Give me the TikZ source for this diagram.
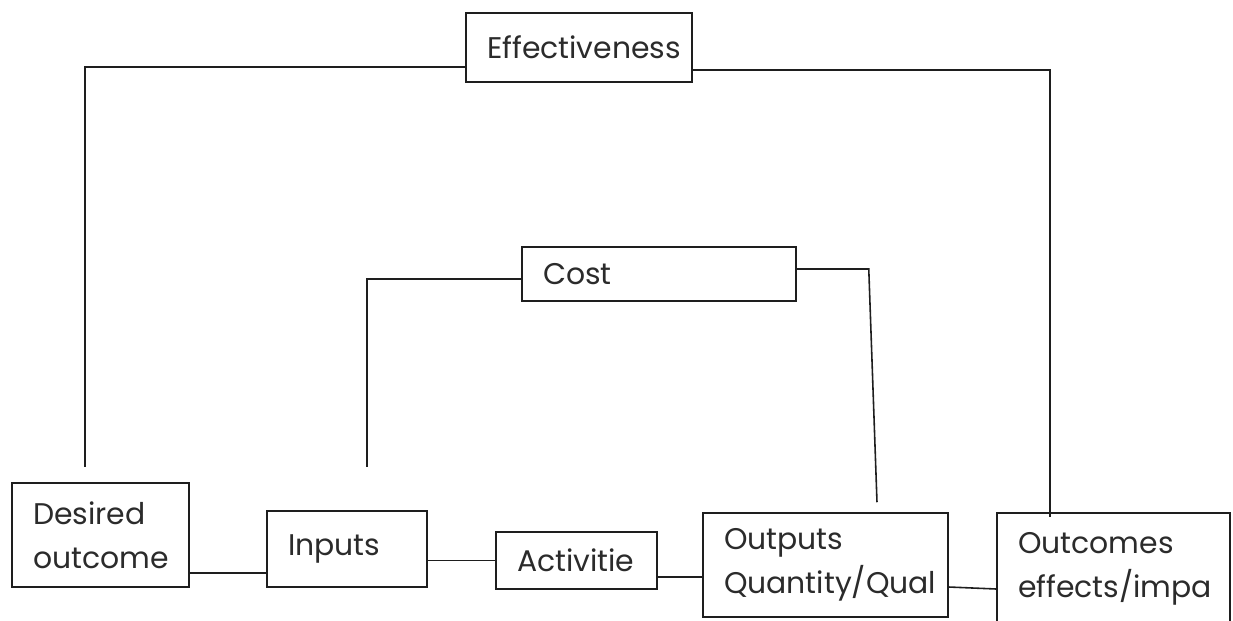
\documentclass[tikz,border=0pt]{standalone}
\usepackage{fontspec}
\setmainfont{Poppins}
\usetikzlibrary{positioning}
\definecolor{inkline}{HTML}{1E1E1E}
\definecolor{inktext}{HTML}{2B2B2B}
\tikzset{
  stagebox/.style={draw=inkline, line width=0.9pt, align=left, inner xsep=0.42cm, inner ysep=0pt, text=inktext, font=\fontsize{17}{25}\selectfont},
  linkline/.style={draw=inkline, line width=0.9pt}
}

\begin{document}
\begin{tikzpicture}[x=0.02cm, y=-0.02cm]
  \clip (0,0) rectangle (1233,620);
  \fill[white] (0,0) rectangle (1233,620);
  % upper boxes
  \node[stagebox, text width=3.68cm, minimum height=1.38cm] (eff) at (579,47.5) {Effectiveness};
  \node[stagebox, text width=4.64cm, minimum height=1.08cm] (cost) at (659,274) {Cost};
  % chain along the bottom
  \node[stagebox, text width=2.70cm, minimum height=2.08cm] (desired) at (100.5,535) {Desired\\outcome};
  \node[stagebox, text width=2.36cm, minimum height=1.52cm] (inputs) at (347,549) {Inputs};
  \node[stagebox, text width=2.38cm, minimum height=1.14cm] (activ) at (576.5,560.5) {Activitie};
  \node[stagebox, text width=4.06cm, minimum height=2.08cm] (outputs) at (825.5,565) {Outputs\\Quantity/Qual};
  \node[stagebox, text width=3.82cm, minimum height=2.24cm] (outcomes) at (1113.5,569) {Outcomes\\effects/impa};
  \draw[linkline] ([yshift=-0.76cm]desired.east) -- ([yshift=-0.48cm]inputs.west);
  \draw[linkline] (inputs.east |- activ.west) -- (activ.west);
  \draw[linkline] ([yshift=-0.33cm]activ.east) -- ([yshift=-0.24cm]outputs.west);
  \draw[linkline] ([yshift=-0.44cm]outputs.east) -- ([yshift=-0.40cm]outcomes.west);
  % effectiveness spans desired outcome to outcomes
  \draw[linkline] ([yshift=-0.39cm]eff.west) -| ([xshift=-0.31cm,yshift=0.3cm]desired.north);
  \draw[linkline] ([yshift=-0.45cm]eff.east) -| ([xshift=-1.27cm,yshift=-0.1cm]outcomes.north);
  % cost spans inputs to outputs
  \draw[linkline] ([yshift=-0.1cm]cost.west) -| ([xshift=0.4cm,yshift=0.86cm]inputs.north);
  \draw[linkline] ([yshift=0.1cm]cost.east) -- ++(72,0) -- ([xshift=1.03cm,yshift=0.2cm]outputs.north);
\end{tikzpicture}
\end{document}
